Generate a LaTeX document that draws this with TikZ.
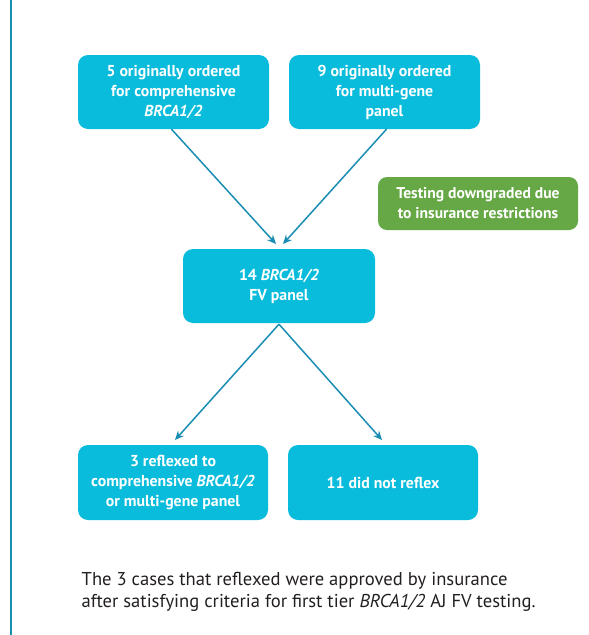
\documentclass[tikz,border=0pt]{standalone}
\usepackage{fontspec}
\setmainfont{PT Sans}
\usetikzlibrary{arrows.meta}
\definecolor{boxcyan}{HTML}{09BCDB}
\definecolor{boxgreen}{HTML}{66A845}
\definecolor{arrowblue}{HTML}{1A8DB3}
\definecolor{textgray}{HTML}{231F20}
\begin{document}
\begin{tikzpicture}[x=1pt,y=-1pt,
  flowbox/.style={fill=boxcyan, rounded corners=10pt, text=white, align=center,
     font=\fontsize{15.8}{20}\selectfont\bfseries, inner sep=0pt},
  notebox/.style={fill=boxgreen, rounded corners=9pt, text=white, align=center,
     font=\fontsize{15.6}{20}\selectfont\bfseries, inner sep=0pt},
  flowarrow/.style={draw=arrowblue, line width=1.5pt, -{Stealth[length=9pt,width=8pt,inset=3pt]}}]
\useasboundingbox (0,0) rectangle (589,635);
\draw[arrowblue, line width=1.2pt] (11,0) -- (11,635);
\node[flowbox, minimum width=191pt, minimum height=74pt] (a) at (173.5,92) {5 originally ordered\\for comprehensive\\\textit{BRCA1/2}};
\node[flowbox, minimum width=191pt, minimum height=74pt] (b) at (384.5,92) {9 originally ordered\\for multi-gene\\panel};
\node[notebox, minimum width=200pt, minimum height=53pt] (n) at (478,203.5) {Testing downgraded due\\to insurance restrictions};
\node[flowbox, minimum width=192pt, minimum height=74pt] (c) at (279,286) {14 \textit{BRCA1/2}\\FV panel};
\node[flowbox, minimum width=190pt, minimum height=75pt] (d) at (173,482.5) {3 reflexed to\\comprehensive \textit{BRCA1/2}\\or multi-gene panel};
\node[flowbox, minimum width=190pt, minimum height=75pt] (e) at (383,482.5) {11 did not reflex};
\coordinate (atop) at (276,244);
\coordinate (btop) at (283,244);
\coordinate (dtop) at (175,440);
\coordinate (etop) at (382,440);
\draw[flowarrow] ([xshift=-2pt]a.south) -- (atop);
\draw[flowarrow] ([xshift=2pt]b.south) -- (btop);
\draw[flowarrow] ([yshift=-1pt]c.south) -- (dtop);
\draw[flowarrow] ([yshift=-1pt]c.south) -- (etop);
\node[anchor=base west, inner sep=0pt, text=textgray, align=left,
  font=\fontsize{18.6}{22}\selectfont] (t) at (81.5,607) {The 3 cases that reflexed were approved by insurance\\after satisfying criteria for first tier \textit{BRCA1/2} AJ FV testing.};
\end{tikzpicture}
\end{document}
